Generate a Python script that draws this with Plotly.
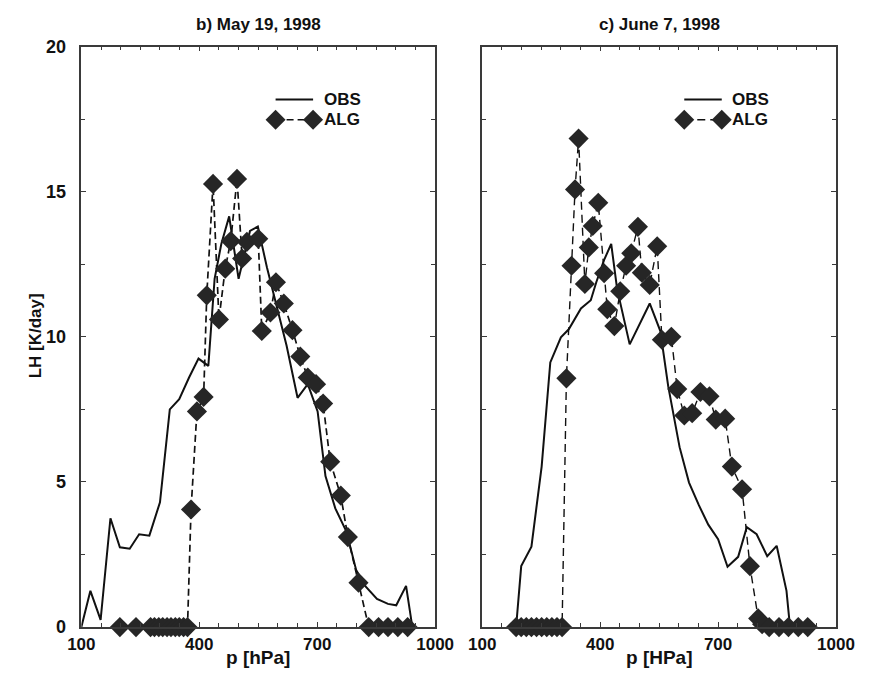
import plotly.graph_objects as go

# ---- data: latent heating profiles (LH in K/day vs pressure in hPa) ----
# panel b) May 19, 1998
obs_p_b = [100, 123, 149, 174, 198, 223, 247, 273, 300, 325, 349, 374, 398, 423,
           439, 456, 476, 500, 529, 549, 572, 596, 622, 650, 676, 701, 721, 746,
           774, 799, 823, 852, 880, 901, 926, 942]
obs_lh_b = [0.0, 1.25, 0.25, 3.75, 2.75, 2.7, 3.2, 3.15, 4.3, 7.5, 7.85, 8.6, 9.25, 9.0,
            12.0, 13.2, 14.15, 12.0, 13.65, 13.8, 12.4, 11.1, 9.7, 7.9, 8.37, 7.43, 5.2, 4.09,
            3.3, 1.97, 1.4, 0.97, 0.8, 0.75, 1.42, 0.0]

alg_p_b = [198, 239, 276, 286, 297, 307, 318, 328, 339, 349, 360, 370, 379, 394,
           411, 419, 435, 450, 466, 480, 496, 509, 521, 550, 559, 581, 595, 615,
           637, 657, 676, 697, 715, 733, 760, 778, 805, 831, 856, 880, 905, 930]
alg_lh_b = [0, 0, 0, 0, 0, 0, 0, 0, 0, 0, 0, 0, 4.05, 7.43,
            7.93, 11.43, 15.27, 10.6, 12.35, 13.3, 15.44, 12.7, 13.27, 13.38, 10.2, 10.84, 11.88, 11.15,
            10.23, 9.32, 8.6, 8.37, 7.7, 5.7, 4.53, 3.1, 1.53, 0, 0, 0, 0, 0]

# panel c) June 7, 1998
obs_p_c = [186, 199, 225, 251, 273, 300, 320, 351, 376, 390, 410, 428, 443, 475,
           526, 553, 573, 602, 626, 651, 675, 700, 724, 751, 773, 798, 825, 849, 874, 883]
obs_lh_c = [0.0, 2.1, 2.77, 5.53, 9.12, 9.98, 10.26, 10.98, 11.26, 11.88, 12.65, 13.2, 11.65, 9.74,
            11.15, 10.2, 8.3, 6.2, 4.98, 4.2, 3.53, 3.03, 2.08, 2.42, 3.44, 3.2, 2.44, 2.8, 1.25, 0.0]

alg_p_c = [186, 199, 212, 225, 238, 251, 264, 277, 290, 303, 314, 327, 336, 345,
           361, 371, 381, 395, 410, 418, 436, 451, 466, 479, 496, 506, 526, 545,
           557, 581, 596, 614, 634, 655, 678, 694, 718, 735, 761, 781, 802, 812,
           830, 855, 879, 904, 928]
alg_lh_c = [0, 0, 0, 0, 0, 0, 0, 0, 0, 0, 8.57, 12.45, 15.08, 16.83,
            11.82, 13.08, 13.82, 14.62, 12.19, 10.95, 10.37, 11.57, 12.45, 12.88, 13.79, 12.21, 11.79, 13.12,
            9.9, 10.0, 8.2, 7.29, 7.37, 8.1, 7.95, 7.15, 7.18, 5.53, 4.75, 2.1, 0.3, 0.1,
            0, 0, 0, 0, 0]

panel_titles = ["b) May 19, 1998", "c) June 7, 1998"]
x_titles = ["p [hPa]", "p [HPa]"]
y_title = "LH [K/day]"
series_names = ["OBS", "ALG"]

FONT = "Liberation Sans, Arial, Helvetica, sans-serif"
INK = "#111111"
MARK = "#262626"
FRAME = "#3a3a3a"

fig = go.Figure()

panels = [
    (obs_p_b, obs_lh_b, alg_p_b, alg_lh_b, "x", "y", "7px,4px", 1.7),
    (obs_p_c, obs_lh_c, alg_p_c, alg_lh_c, "x2", "y2", "8px,5px", 1.4),
]
for op, ol, ap, al, xa, ya, dash, dw in panels:
    fig.add_trace(go.Scatter(
        x=op, y=ol, xaxis=xa, yaxis=ya, mode="lines", name=series_names[0],
        line=dict(color=INK, width=2), showlegend=False, cliponaxis=False))
    fig.add_trace(go.Scatter(
        x=ap, y=al, xaxis=xa, yaxis=ya, mode="lines+markers", name=series_names[1],
        line=dict(color=INK, width=dw, dash=dash),
        marker=dict(symbol="diamond", size=15.5, color=MARK, line=dict(width=0)),
        showlegend=False, cliponaxis=False))

xdom = [[70 / 873, 437.7 / 873], [486.7 / 873, 854.3 / 873]]
ydom = [47.3 / 683, 645.3 / 683]

common_x = dict(
    range=[100, 1000], tick0=100, dtick=300, ticks="inside", ticklen=5, tickwidth=1,
    tickcolor=FRAME, showline=True, linecolor=FRAME, linewidth=1.6, mirror="ticks",
    showgrid=False, zeroline=False, ticklabelstandoff=1,
    tickfont=dict(family=FONT, size=17, color=INK, weight="bold"),
    minor=dict(dtick=50, tick0=100, ticks="inside", ticklen=4, tickcolor=FRAME, showgrid=False),
)
common_y = dict(
    range=[0, 20], tick0=0, dtick=5, ticks="inside", ticklen=5, tickwidth=1,
    tickcolor=FRAME, showline=True, linecolor=FRAME, linewidth=1.6, mirror="ticks",
    showgrid=False, zeroline=False, ticklabelstandoff=10,
    tickfont=dict(family=FONT, size=18, color=INK, weight="bold"),
    minor=dict(dtick=2.5, tick0=0, ticks="inside", ticklen=4, tickcolor=FRAME, showgrid=False),
)

fig.update_layout(
    width=873, height=683, margin=dict(l=0, r=0, t=0, b=0),
    paper_bgcolor="white", plot_bgcolor="white",
    xaxis=dict(domain=xdom[0], anchor="y", **common_x),
    yaxis=dict(domain=ydom, anchor="x", **common_y),
    xaxis2=dict(domain=xdom[1], anchor="y2", **common_x),
    yaxis2=dict(domain=ydom, anchor="x2", showticklabels=False, **common_y),
)

ann = []
shapes = []
title_font = dict(family=FONT, size=17, color=INK, weight="bold")
label_font = dict(family=FONT, size=19, color=INK, weight="bold")

for i, (xd, t, xt) in enumerate(zip(xdom, panel_titles, x_titles)):
    cx = (xd[0] + xd[1]) / 2
    ann.append(dict(text=t, x=cx, y=1 - 15 / 683, xref="paper", yref="paper",
                    showarrow=False, font=title_font, xanchor="center", yanchor="middle"))
    ann.append(dict(text=xt, x=cx, y=1 - 667 / 683, xref="paper", yref="paper",
                    showarrow=False, font=label_font, xanchor="center", yanchor="middle"))

ann.append(dict(text=y_title, x=22 / 873, y=1 - 336 / 683, xref="paper", yref="paper",
                textangle=-90, showarrow=False, font=dict(family=FONT, size=17, color=INK, weight="bold"),
                xanchor="center", yanchor="middle"))

# in-panel keys: solid line for OBS, dashed line with diamonds for ALG
keys = [("x domain", "y domain", 0.549, 0.655, 0.680, "7px,4px"),
        ("x2 domain", "y2 domain", 0.571, 0.677, 0.700, "8px,5px")]
leg_font = dict(family=FONT, size=17, color=INK, weight="bold")
for xr, yr, a, b, tx, dash in keys:
    y_obs, y_alg = 0.909, 0.874
    shapes.append(dict(type="line", xref=xr, yref=yr, x0=a, x1=b, y0=y_obs, y1=y_obs,
                       line=dict(color=INK, width=2)))
    shapes.append(dict(type="line", xref=xr, yref=yr, x0=a, x1=b, y0=y_alg, y1=y_alg,
                       line=dict(color=INK, width=1.6, dash=dash)))
    for xc in (a, b):
        shapes.append(dict(type="path", xref=xr, yref=yr, xsizemode="pixel", ysizemode="pixel",
                           xanchor=xc, yanchor=y_alg, path="M -10,0 L 0,10 L 10,0 L 0,-10 Z",
                           fillcolor=MARK, line=dict(width=0)))
    ann.append(dict(text=series_names[0], x=tx, y=y_obs, xref=xr, yref=yr, showarrow=False,
                    font=leg_font, xanchor="left", yanchor="middle"))
    ann.append(dict(text=series_names[1], x=tx, y=y_alg, xref=xr, yref=yr, showarrow=False,
                    font=leg_font, xanchor="left", yanchor="middle"))

fig.update_layout(annotations=ann, shapes=shapes)

fig.write_html("out.html")
